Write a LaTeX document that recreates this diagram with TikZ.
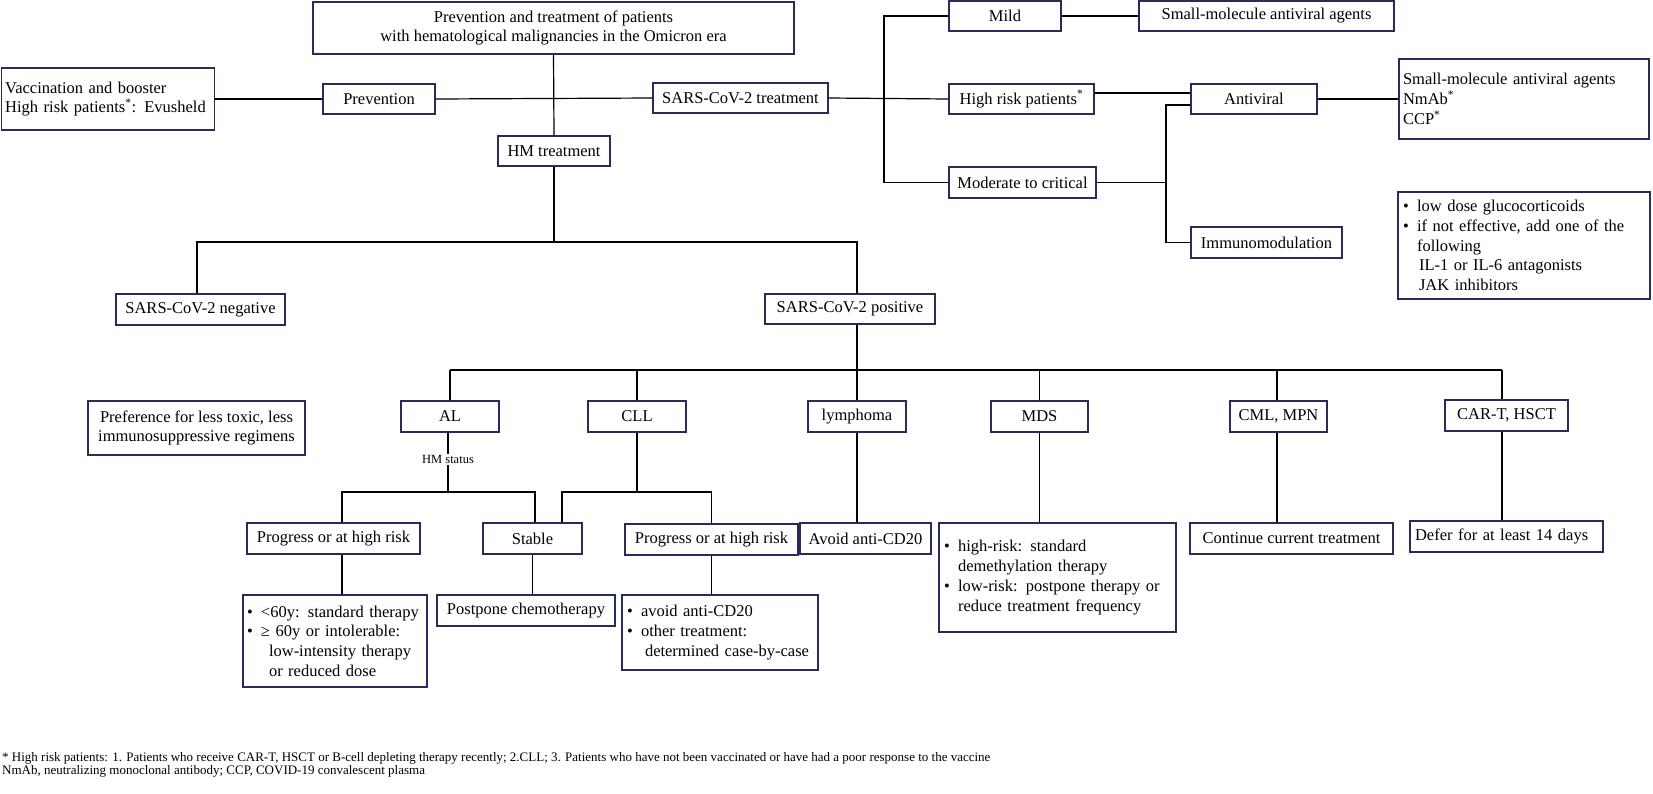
\documentclass[tikz,border=0pt]{standalone}
\usepackage{fontspec}
\setmainfont{Liberation Serif}
\definecolor{boxc}{RGB}{40,44,90}
\newcommand\fs{\fontsize{16.5}{19.7}\selectfont}
\newcommand\bul[1]{\makebox[14pt][l]{•}#1}
\newcommand\cnt[1]{\hspace*{14pt}#1}
\tikzset{
  box/.style={draw=boxc, line width=1.3pt, fill=white, inner sep=2pt, font=\fs, align=center},
  lbox/.style={box, align=left, inner xsep=5pt},
  conn/.style={line width=1.2pt, draw=black},
}
\begin{document}
\begin{tikzpicture}[x=1pt,y=-1pt]
\useasboundingbox (0,0) rectangle (1653,793);
% top part
\node[box, minimum width=481pt, minimum height=52pt] (top) at (553.5,28) {Prevention and treatment of patients\\with hematological malignancies in the Omicron era};
\node[lbox, minimum height=62pt, text width=205pt, inner xsep=4pt] (vacc) at (107.7,99) {Vaccination and booster\\High risk patients\textsuperscript{*}: Evusheld};
\node[box, minimum width=112pt, minimum height=30pt] (prev) at (379,99) {Prevention};
\node[box, minimum width=175pt, minimum height=30pt] (sars) at (740.5,98) {SARS-CoV-2 treatment};
\node[box, minimum width=112pt, minimum height=30pt] (hm) at (554,151) {HM treatment};
\node[box, minimum width=112pt, minimum height=30pt] (mild) at (1005,16) {Mild};
\node[box, minimum width=255pt, minimum height=30pt] (sm1) at (1266.5,16) {Small-molecule antiviral agents};
\node[box, minimum width=145pt, minimum height=30pt] (hr) at (1021.5,99) {High risk patients\textsuperscript{*}};
\node[box, minimum width=147pt, minimum height=31pt] (mod) at (1022.5,182.5) {Moderate to critical};
\node[box, minimum width=126pt, minimum height=30pt] (anti) at (1254,99) {Antiviral};
\node[box, minimum width=151pt, minimum height=31pt] (immuno) at (1266.5,242.5) {Immunomodulation};
\node[lbox, minimum height=80pt, text width=242pt, inner xsep=4pt] (list) at (1524,99) {Small-molecule antiviral agents\\NmAb\textsuperscript{*}\\CCP\textsuperscript{*}};
\node[lbox, minimum height=107pt, text width=242pt, inner xsep=5pt] (gluco) at (1524,245.5) {\bul{low dose glucocorticoids}\\\bul{if not effective, add one of the}\\\cnt{following}\\\hspace*{16pt}IL-1 or IL-6 antagonists\\\hspace*{16pt}JAK inhibitors};
% middle
\node[box, minimum width=169pt, minimum height=31pt] (neg) at (200.5,309.5) {SARS-CoV-2 negative};
\node[box, minimum width=170pt, minimum height=30pt] (pos) at (850,309) {SARS-CoV-2 positive};
\node[box, minimum width=217pt, minimum height=54pt] (pref) at (196.5,428) {Preference for less toxic, less\\immunosuppressive regimens};
\node[box, minimum width=98pt, minimum height=31pt] (al) at (450,416.5) {AL};
\node[box, minimum width=98pt, minimum height=31pt] (cll) at (637,416.5) {CLL};
\node[box, minimum width=98pt, minimum height=31pt] (lym) at (857,416.5) {lymphoma};
\node[box, minimum width=97pt, minimum height=31pt] (mds) at (1039.5,416.5) {MDS};
\node[box, minimum width=97pt, minimum height=31pt] (cml) at (1278.5,416.5) {CML, MPN};
\node[box, minimum width=123pt, minimum height=31pt] (cart) at (1506.5,415.5) {CAR-T, HSCT};
% lower
\node[box, minimum width=173pt, minimum height=31pt] (alp) at (333.5,538.5) {Progress or at high risk};
\node[box, minimum width=99pt, minimum height=31pt] (stable) at (532.5,538.5) {Stable};
\node[box, minimum width=173pt, minimum height=31pt] (cllp) at (711.5,539.5) {Progress or at high risk};
\node[box, minimum width=131pt, minimum height=31pt] (avoid) at (865.5,538.5) {Avoid anti-CD20};
\node[lbox, minimum height=109pt, text width=227pt] (mdsb) at (1057.5,577.5) {\bul{high-risk: standard}\\\cnt{demethylation therapy}\\\bul{low-risk: postpone therapy or}\\\cnt{reduce treatment frequency}};
\node[box, minimum width=203pt, minimum height=31pt] (cont) at (1291.5,538.5) {Continue current treatment};
\node[lbox, minimum height=31pt, text width=183pt] (defer) at (1506.5,536.5) {Defer for at least 14 days};
\node[lbox, minimum height=92pt, text width=176pt, inner xsep=4pt] (alb) at (335,641) {\bul{<60y: standard therapy}\\\bul{≥ 60y or intolerable:}\\\hspace*{22pt}low-intensity therapy\\\hspace*{22pt}or reduced dose};
\node[box, minimum width=178pt, minimum height=31pt] (post) at (526,610.5) {Postpone chemotherapy};
\node[lbox, minimum height=75pt, text width=186pt] (cllb) at (720,632.5) {\bul{avoid anti-CD20}\\\bul{other treatment:}\\\hspace*{18pt}determined case-by-case};
% junctions
\coordinate (hmj) at (554,242);
\coordinate (sj) at (884,99);
\coordinate (vj) at (1166,182.5);
\coordinate (pj) at (857,370);
\coordinate (aj) at (448,492);
\coordinate (cj) at (637,492);
% connectors
\draw[conn] (top.south) -- (hm.north);
\draw[conn] (vacc.east) -- (prev.west);
\draw[conn] (prev.east) -- (sars.west);
\draw[conn] (sars.east) -- (hr.west);
\draw[conn] (mild.west) -| (sj) |- (mod.west);
\draw[conn] (mild.east) -- (sm1.west);
\draw[conn] ([yshift=6pt]hr.east) -- ([yshift=6pt]anti.west);
\draw[conn] (mod.east) -- (vj);
\draw[conn] ([yshift=-6pt]anti.west) -| (vj) |- (immuno.west);
\draw[conn] (anti.east) -- (list.west);
\draw[conn] (hm.south) -- (hmj);
\draw[conn] ([xshift=-3.5pt]neg.north) |- (hmj) -| ([xshift=7pt]pos.north);
\draw[conn] ([xshift=7pt]pos.south) -- (lym.north);
\draw[conn] (al.north |- pj) -- ([xshift=-4.5pt]cart.north |- pj);
\draw[conn] (al.north) -- (al.north |- pj);
\draw[conn] (cll.north) -- (cll.north |- pj);
\draw[conn] (mds.north) -- (mds.north |- pj);
\draw[conn] ([xshift=-1.5pt]cml.north) -- ([xshift=-1.5pt]cml.north |- pj);
\draw[conn] ([xshift=-4.5pt]cart.north) -- ([xshift=-4.5pt]cart.north |- pj);
\draw[conn] ([xshift=-2pt]al.south) -- node[pos=0.45, fill=white, inner sep=1pt, font=\fontsize{12.5}{14}\selectfont] (hms) {HM status} (aj);
\draw[conn] ([xshift=8.5pt]alp.north) |- (aj) -| ([xshift=2.5pt]stable.north);
\draw[conn] (cll.south) -- (cj);
\draw[conn] ([xshift=29.5pt]stable.north) |- (cj) -| (cllp.north);
\draw[conn] ([xshift=8.5pt]alp.south) -- ([xshift=8.5pt]alp.south |- alb.north);
\draw[conn] (stable.south) -- (stable.south |- post.north);
\draw[conn] (cllp.south) -- (cllp.south |- cllb.north);
\draw[conn] (lym.south) -- (lym.south |- avoid.north);
\draw[conn] (mds.south) -- (mds.south |- mdsb.north);
\draw[conn] ([xshift=-1.5pt]cml.south) -- ([xshift=-1.5pt]cml.south |- cont.north);
\draw[conn] ([xshift=-4.5pt]cart.south) -- ([xshift=-4.5pt]cart.south |- defer.north);
% footer
\node[anchor=base west, inner sep=0pt, align=left, font=\fontsize{13}{12.5}\selectfont] (foot) at (2,774) {* High risk patients: 1. Patients who receive CAR-T, HSCT or B-cell depleting therapy recently; 2.CLL; 3. Patients who have not been vaccinated or have had a poor response to the vaccine\\NmAb, neutralizing monoclonal antibody; CCP, COVID-19 convalescent plasma};
\end{tikzpicture}
\end{document}
